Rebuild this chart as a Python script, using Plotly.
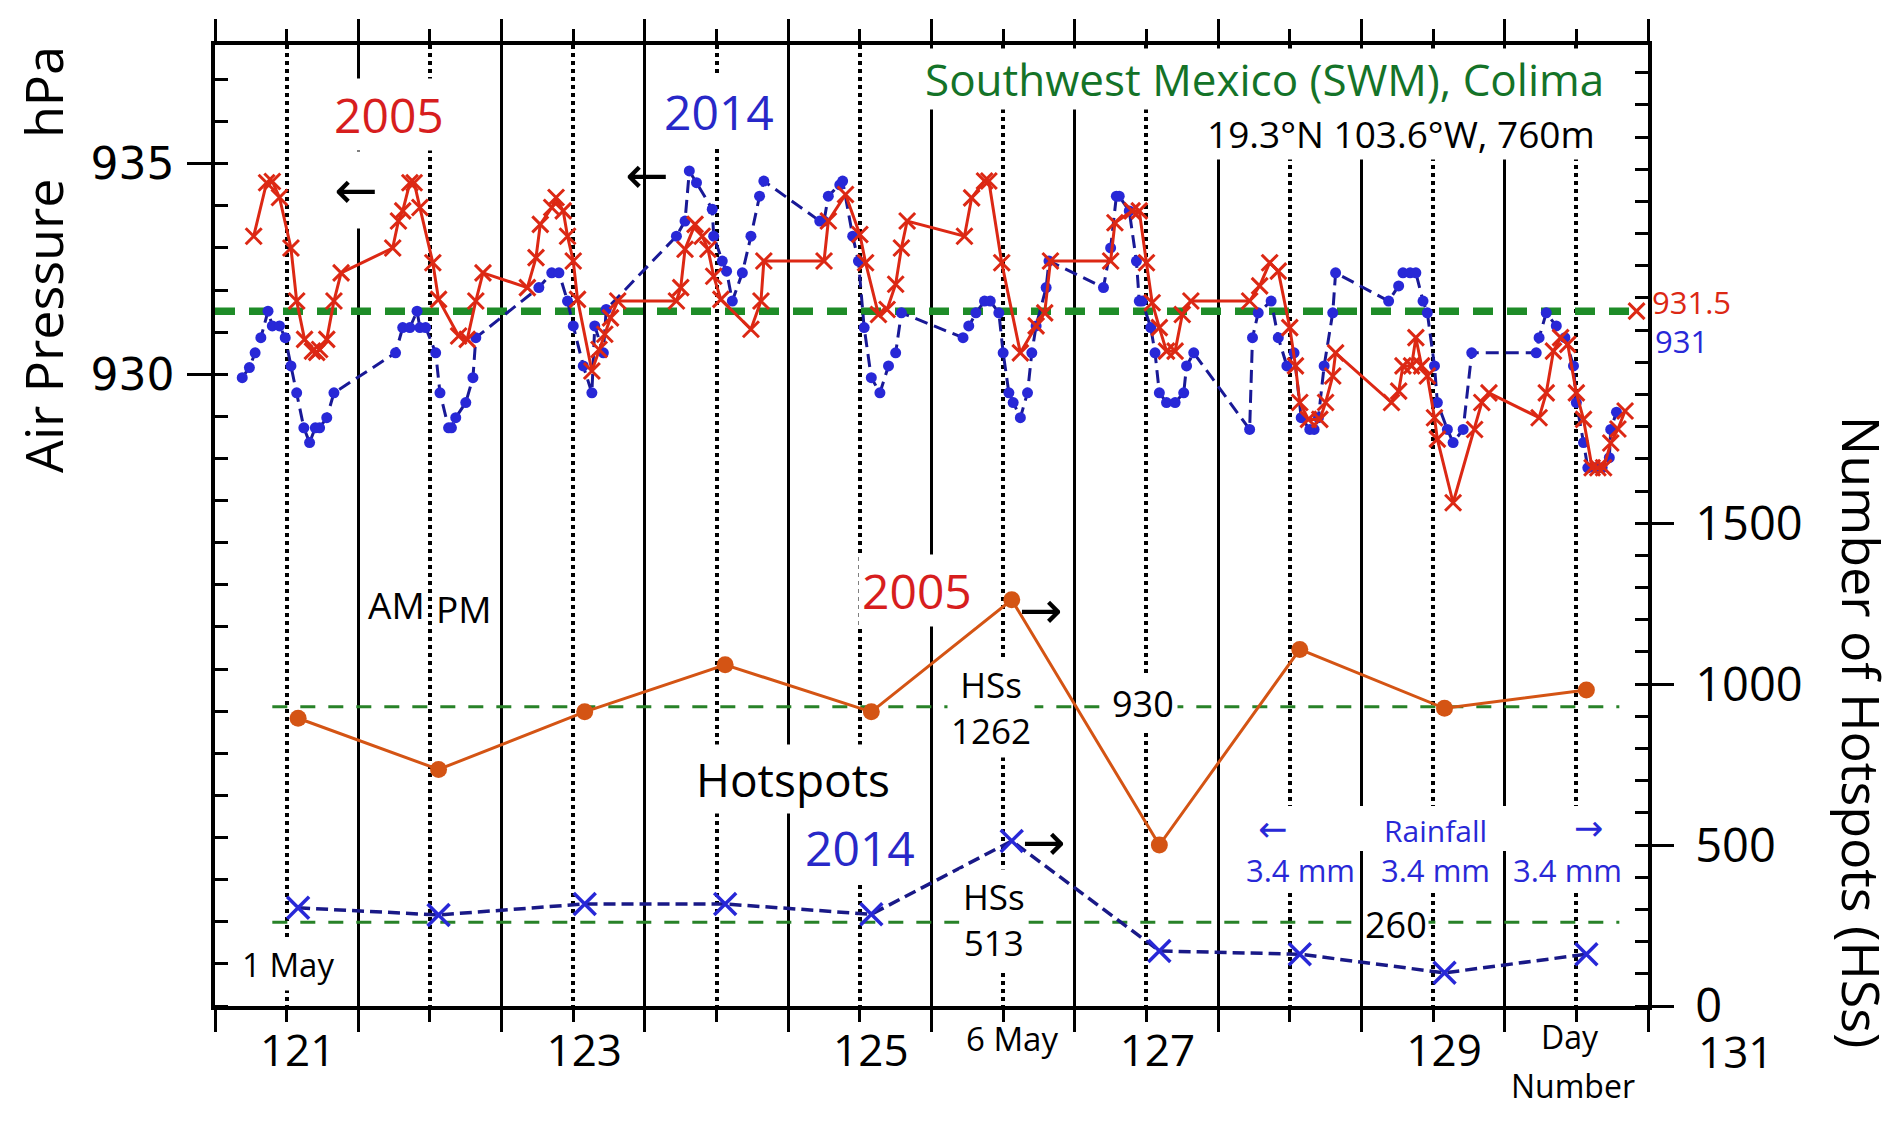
import plotly.graph_objects as go

# ---------------- data ----------------
# air pressure, 2005 (red x) -- day number, hPa
p05_day = [120.77, 120.86, 120.9, 120.95, 121.03, 121.07, 121.125, 121.18, 121.21, 121.23,
           121.28, 121.33, 121.38, 121.74, 121.78, 121.81, 121.86, 121.89, 121.93, 122.02,
           122.06, 122.2, 122.26, 122.32, 122.37, 122.68, 122.74, 122.77, 122.85, 122.88,
           122.93, 122.96, 123.0, 123.03, 123.13, 123.18, 123.22, 123.26, 123.31, 123.72,
           123.75, 123.78, 123.85, 123.9, 123.94, 123.98, 124.03, 124.24, 124.31, 124.33,
           124.75, 124.78, 124.9, 125.0, 125.04, 125.13, 125.19, 125.25, 125.29, 125.33,
           125.73, 125.78, 125.87, 125.9, 125.99, 126.12, 126.23, 126.29, 126.33, 126.75,
           126.78, 126.9, 126.95, 127.0, 127.04, 127.09, 127.14, 127.2, 127.25, 127.31,
           127.72, 127.79, 127.86, 127.92, 128.0, 128.04, 128.07, 128.13, 128.21, 128.25,
           128.3, 128.32, 128.71, 128.76, 128.79, 128.85, 128.88, 128.92, 128.96, 129.01,
           129.03, 129.14, 129.29, 129.34, 129.39, 129.74, 129.79, 129.84, 129.89, 129.94,
           130.0, 130.05, 130.11, 130.15, 130.19, 130.24, 130.29, 130.34]
p05_hpa = [933.28, 934.55, 934.58, 934.2, 933.0, 931.74, 930.83, 930.55, 930.52, 930.59,
           930.83, 931.74, 932.41, 933.0, 933.64, 933.88, 934.55, 934.55, 933.96, 932.65,
           931.78, 930.91, 930.83, 931.74, 932.41, 932.06, 932.77, 933.56, 933.96, 934.2,
           933.88, 933.28, 932.69, 931.78, 930.08, 930.59, 930.95, 931.34, 931.74, 931.74,
           932.06, 932.97, 933.56, 933.28, 932.97, 932.33, 931.78, 931.07, 931.74, 932.69,
           932.69, 933.64, 934.27, 933.32, 932.65, 931.42, 931.54, 932.14, 933.0, 933.64,
           933.28, 934.19, 934.59, 934.59, 932.65, 930.51, 931.15, 931.46, 932.69, 932.69,
           933.6, 933.88, 933.88, 932.65, 931.7, 931.11, 930.55, 930.55, 931.42, 931.74,
           931.74, 932.1, 932.65, 932.45, 931.11, 930.2, 929.33, 928.93, 928.93, 929.33,
           929.96, 930.51, 929.33, 929.6, 930.2, 930.2, 930.87, 930.2, 929.96, 928.97,
           928.46, 926.95, 928.69, 929.33, 929.56, 928.97, 929.56, 930.55, 930.87, 930.71,
           929.56, 928.93, 927.78, 927.78, 927.78, 928.37, 928.7, 929.13]

# air pressure, 2014 (blue dots)
p14_day = [120.69, 120.74, 120.78, 120.82, 120.87, 120.9, 120.95, 120.99, 121.03, 121.07,
           121.12, 121.16, 121.2, 121.23, 121.28, 121.33, 121.76, 121.81, 121.86, 121.91,
           121.93, 121.97, 122.04, 122.07, 122.13, 122.15, 122.18, 122.25, 122.3, 122.32,
           122.76, 122.85, 122.9, 122.96, 123.0, 123.07, 123.13, 123.15, 123.21, 123.23,
           123.72, 123.78, 123.81, 123.86, 123.97, 123.98, 124.04, 124.07, 124.11, 124.18,
           124.24, 124.3, 124.33, 124.72, 124.75, 124.78, 124.86, 124.88, 124.95, 124.99,
           125.03, 125.08, 125.14, 125.2, 125.25, 125.29, 125.72, 125.76, 125.81, 125.87,
           125.91, 125.97, 126.0, 126.04, 126.07, 126.12, 126.17, 126.2, 126.23, 126.3,
           126.32, 126.7, 126.75, 126.79, 126.81, 126.88, 126.93, 126.95, 126.97, 127.03,
           127.06, 127.09, 127.14, 127.2, 127.26, 127.28, 127.33, 127.72, 127.74, 127.78,
           127.87, 127.92, 127.98, 128.03, 128.08, 128.14, 128.17, 128.2, 128.24, 128.3,
           128.32, 128.69, 128.76, 128.79, 128.84, 128.88, 128.93, 128.96, 129.01, 129.03,
           129.1, 129.14, 129.21, 129.27, 129.72, 129.74, 129.79, 129.86, 129.92, 129.98,
           130.0, 130.05, 130.08, 130.13, 130.18, 130.23, 130.24, 130.28]
p14_hpa = [929.92, 930.16, 930.51, 930.87, 931.5, 931.15, 931.15, 930.87, 930.2, 929.56,
           928.73, 928.38, 928.73, 928.73, 928.97, 929.56, 930.51, 931.11, 931.11, 931.5,
           931.11, 931.11, 930.51, 929.56, 928.73, 928.73, 928.97, 929.33, 929.92, 930.87,
           932.06, 932.41, 932.41, 931.74, 931.15, 930.2, 929.56, 931.15, 930.51, 931.54,
           933.28, 933.64, 934.83, 934.55, 933.92, 933.28, 932.69, 932.45, 931.74, 932.41,
           933.28, 934.23, 934.59, 933.64, 933.64, 934.23, 934.5, 934.59, 933.28, 932.69,
           931.11, 929.92, 929.56, 930.2, 930.51, 931.46, 930.87, 931.15, 931.46, 931.74,
           931.74, 931.46, 930.51, 929.56, 929.33, 928.97, 929.56, 930.51, 931.15, 932.06,
           932.69, 932.06, 933.0, 934.23, 934.23, 933.88, 932.69, 931.74, 931.74, 931.11,
           930.51, 929.56, 929.33, 929.33, 929.56, 930.2, 930.51, 928.69, 930.87, 931.46,
           931.74, 930.87, 930.2, 930.51, 928.97, 928.69, 928.69, 928.97, 930.2, 931.46,
           932.41, 931.74, 932.1, 932.41, 932.41, 932.41, 931.74, 931.46, 930.2, 929.33,
           928.69, 928.38, 928.69, 930.51, 930.51, 930.87, 931.46, 931.15, 930.87, 930.2,
           929.33, 928.38, 927.78, 927.78, 927.78, 928.02, 928.69, 929.1]

# mean pressure reference
ref_hpa = 931.5
ref_day = [120.5, 130.45]
ref_mark_day = [130.42]

# hotspots per day
hs_day = [121.08, 122.06, 123.08, 124.06, 125.08, 126.06, 127.09, 128.07, 129.08, 130.07]
hs_2005 = [894, 735, 914, 1060, 914, 1262, 500, 1108, 925, 982]
hs_2014 = [305, 283, 317, 317, 285, 513, 171, 161, 103, 161]
hs_mean = [930, 260]
hs_mean_day = [120.9, 130.3]

day_ticks = [121, 122, 123, 124, 125, 126, 127, 128, 129, 130]
day_labels = ["121", "", "123", "", "125", "", "127", "", "129", ""]
half_days = [120.5, 121.5, 122.5, 123.5, 124.5, 125.5, 126.5, 127.5, 128.5, 129.5, 130.5]

# ---------------- styling ----------------
FONT = "Open Sans"
ARROW = "DejaVu Sans"
RED = "rgb(220,40,20)"
BLUE = "rgb(40,40,215)"
NAVY = "rgb(25,25,150)"
ORANGE = "rgb(212,84,20)"
GREEN = "rgb(30,140,40)"

W, H = 1904, 1127
PL, PR, PT, PB = 215, 1648, 45, 1006


def px(X, Y):
    # picture pixels -> paper coordinates
    return (X - PL) / (PR - PL), (PB - Y) / (PB - PT)


def note(text, X, Y, size, color="black", family=FONT, bg=None, **kw):
    x, y = px(X, Y)
    d = dict(text=text, x=x, y=y,
             xref="paper", yref="paper", showarrow=False,
             xanchor="center", yanchor="middle",
             font=dict(family=family, size=size, color=color))
    if bg:
        d.update(bgcolor=bg, borderpad=3)
    d.update(kw)
    return d


fig = go.Figure()

# green mean pressure line
fig.add_trace(go.Scatter(x=ref_day, y=[ref_hpa, ref_hpa], mode="lines",
                         line=dict(color=GREEN, width=7.5, dash="20px,14px"),
                         hoverinfo="skip"))

# 2014 pressure
fig.add_trace(go.Scatter(x=p14_day, y=p14_hpa, mode="lines+markers", name="2014",
                         line=dict(color=NAVY, width=3, dash="13px,7px"),
                         marker=dict(color=BLUE, size=11, symbol="circle")))

# 2005 pressure
fig.add_trace(go.Scatter(x=p05_day, y=p05_hpa, mode="lines+markers", name="2005",
                         line=dict(color=RED, width=3),
                         marker=dict(symbol="x-thin", size=16,
                                     line=dict(color=RED, width=3))))

fig.add_trace(go.Scatter(x=ref_mark_day, y=[ref_hpa], mode="markers",
                         marker=dict(symbol="x-thin", size=16,
                                     line=dict(color=RED, width=3))))

# hotspot mean lines (right axis)
for v in hs_mean:
    fig.add_trace(go.Scatter(x=hs_mean_day, y=[v, v], mode="lines", yaxis="y2",
                             line=dict(color="rgb(40,130,40)", width=3, dash="15px,13px"),
                             hoverinfo="skip"))

fig.add_trace(go.Scatter(x=hs_day, y=hs_2005, mode="lines+markers", yaxis="y2",
                         name="HSs 2005",
                         line=dict(color=ORANGE, width=3),
                         marker=dict(color=ORANGE, size=17)))

fig.add_trace(go.Scatter(x=hs_day, y=hs_2014, mode="lines+markers", yaxis="y2",
                         name="HSs 2014",
                         line=dict(color="rgb(25,25,135)", width=3.5, dash="12px,6px"),
                         marker=dict(symbol="x-thin", size=22,
                                     line=dict(color=BLUE, width=3.5))))

# white band behind the rainfall caption (breaks the vertical lines there)
x0, y0 = px(1240, 851)
x1, y1 = px(1625, 806)
shapes = [dict(type="rect", xref="paper", yref="paper", x0=x0, x1=x1, y0=y0, y1=y1,
               fillcolor="white", line=dict(width=0), layer="above")]

annotations = [
    note("Air\u00a0Pressure\u00a0\u00a0\u00a0hPa", 42, 260, 52, textangle=-90),
    note("Number of Hotspots (HSs)", 1862, 732, 52, textangle=90),
    note("19.3°N 103.6°W, 760m", 1401, 133, 37, bg="white", borderpad=0),
    note("Southwest Mexico (SWM), Colima", 1264, 79, 44, color="rgb(20,115,40)",
         bg="white", borderpad=0),
    note("2005", 389, 115, 48, color="rgb(215,30,30)", bg="white"),
    note("2014", 719, 112, 48, color="rgb(40,40,200)", bg="white"),
    note("←", 356, 190, 52, family=ARROW, bg="white", height=70),
    note("←", 647, 175, 52, family=ARROW),
    note("AM", 396, 604, 37),
    note("PM", 464, 608, 37),
    note("2005", 917, 590, 48, color="rgb(215,30,30)", bg="white"),
    note("→", 1041, 610, 52, family=ARROW),
    note("HSs<br>1262", 991, 707, 35, bg="white"),
    note("930", 1143, 703, 36, bg="white"),
    note("Hotspots", 793, 779, 46, bg="white"),
    note("2014", 860, 847, 48, color="rgb(40,40,200)", bg="white"),
    note("→", 1044, 842, 52, family=ARROW),
    note("HSs<br>513", 994, 919, 35, bg="white"),
    note("260", 1396, 924, 36, bg="white", borderpad=1),
    note("1 May", 288, 964, 33, bg="white"),
    note("6 May", 1012, 1038, 33),
    note("Day", 1570, 1036, 32),
    note("Number", 1573, 1085, 32),
    note("131", 1735, 1051, 44),
    note("931.5", 1650, 302, 31, color=RED, xanchor="left"),
    note("931", 1653, 341, 31, color=BLUE, xanchor="left"),
    note("←", 1272, 829, 35, color=BLUE, family=ARROW),
    note("→", 1588, 828, 35, color=BLUE, family=ARROW),
    note("3.4 mm", 1300, 870, 31, color=BLUE, bg="white", borderpad=0),
    note("<span style='font-size:30px'>Rainfall</span><br>3.4 mm", 1435, 850, 31,
         color=BLUE, bg="white", borderpad=0),
    note("3.4 mm", 1567, 870, 31, color=BLUE, bg="white", borderpad=0),
]

fig.update_layout(
    width=W, height=H,
    margin=dict(l=PL, r=W - PR, t=PT, b=H - PB, autoexpand=False),
    paper_bgcolor="white", plot_bgcolor="white",
    showlegend=False,
    shapes=shapes,
    annotations=annotations,
    xaxis=dict(
        range=[120.5, 130.5], showline=True, linewidth=3.5, linecolor="black",
        mirror="ticks", zeroline=False,
        tickmode="array", tickvals=day_ticks, ticktext=day_labels,
        ticks="outside", ticklen=12, tickwidth=3, tickcolor="black",
        tickfont=dict(family=FONT, size=44, color="black"),
        ticklabelshift=11, ticklabelstandoff=-9,
        showgrid=True, gridcolor="black", gridwidth=3.5, griddash="4px,4px",
        minor=dict(tickmode="array", tickvals=half_days, ticks="outside",
                   ticklen=22, tickwidth=3, tickcolor="black",
                   showgrid=True, gridcolor="black", gridwidth=3, griddash="solid"),
    ),
    xaxis2=dict(
        range=[120.5, 130.5], overlaying="x", anchor="y", side="bottom",
        showline=True, linewidth=3.5, linecolor="black", mirror="ticks",
        tickmode="array", tickvals=day_ticks, ticks="inside", ticklen=10,
        tickwidth=3, tickcolor="black", showticklabels=False,
        showgrid=False, zeroline=False,
    ),
    yaxis=dict(
        range=[915, 937.82], showline=True, linewidth=3.5, linecolor="black",
        zeroline=False, showgrid=False,
        tickmode="array", tickvals=[930, 935], ticks="outside", ticklen=24,
        tickwidth=3, tickcolor="black",
        tickfont=dict(family="DejaVu Sans", size=44, color="black"),
        ticklabelstandoff=4,
        minor=dict(tickmode="linear", tick0=915, dtick=1, ticks="inside",
                   ticklen=13, tickwidth=3, tickcolor="black", showgrid=False),
    ),
    yaxis3=dict(
        range=[915, 937.82], overlaying="y", anchor="x", side="left",
        tickmode="array", tickvals=[930, 935], ticks="inside", ticklen=24,
        tickwidth=3, tickcolor="black", showticklabels=False,
        showgrid=False, zeroline=False, showline=False,
    ),
    yaxis5=dict(
        range=[915, 937.82], overlaying="y", anchor="x", side="left",
        tickmode="array", tickvals=[915, 920, 925], ticks="outside", ticklen=12,
        tickwidth=3, tickcolor="black", showticklabels=False,
        showgrid=False, zeroline=False, showline=False,
    ),
    yaxis2=dict(
        range=[0, 2986], overlaying="y", anchor="x", side="right",
        showline=True, linewidth=3.5, linecolor="black", zeroline=False, showgrid=False,
        tickmode="array", tickvals=[0, 500, 1000, 1500], ticks="outside", ticklen=22,
        tickwidth=3, tickcolor="black",
        tickfont=dict(family=FONT, size=47, color="black"),
        ticklabelstandoff=12,
        minor=dict(tickmode="linear", tick0=0, dtick=100, ticks="inside",
                   ticklen=13, tickwidth=3, tickcolor="black", showgrid=False),
    ),
    yaxis4=dict(
        range=[0, 2986], overlaying="y", anchor="x", side="right",
        tickmode="array", tickvals=[0, 500, 1000, 1500], ticks="inside", ticklen=24,
        tickwidth=3, tickcolor="black", showticklabels=False,
        showgrid=False, zeroline=False, showline=False,
    ),
)

fig.write_html("out.html", config={"displayModeBar": False},
               post_script="document.body.style.margin='0px';")
